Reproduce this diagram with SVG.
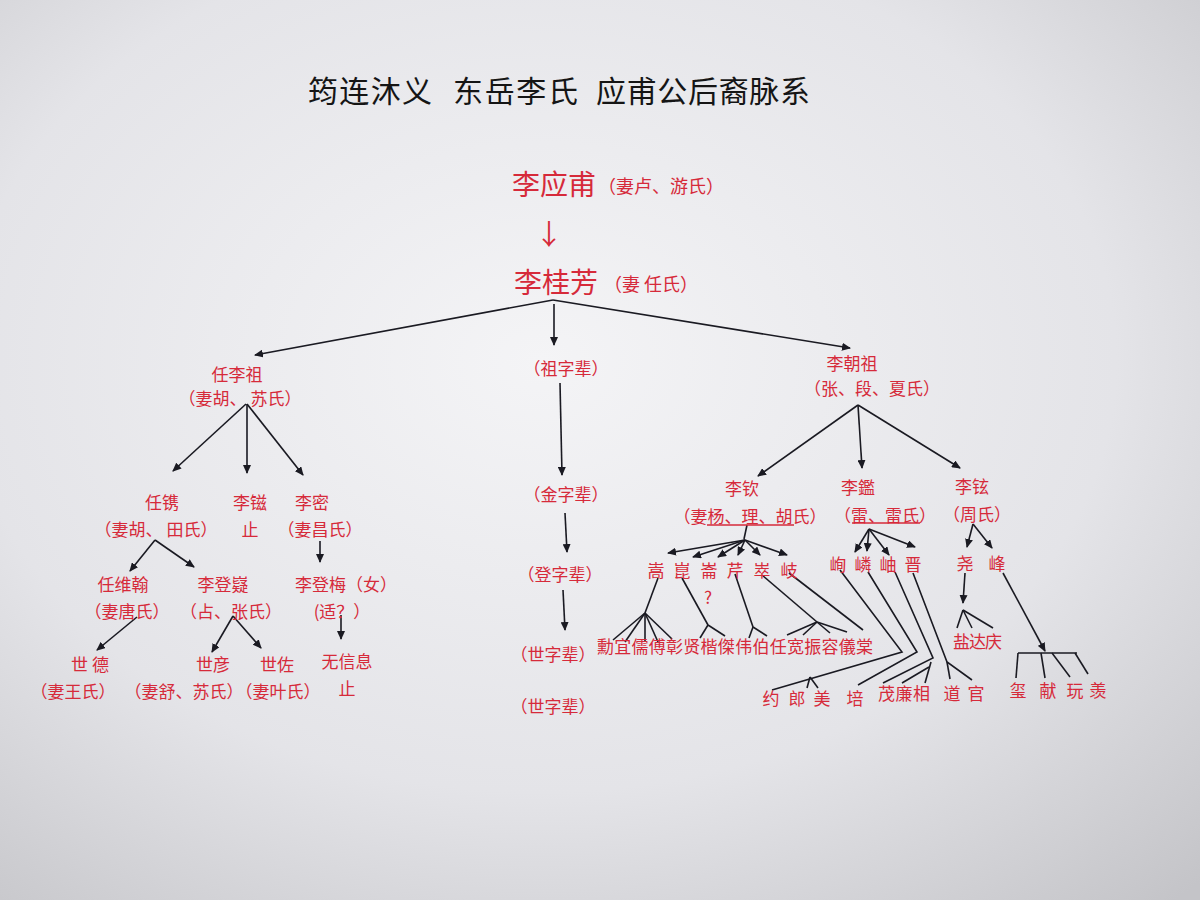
<svg xmlns="http://www.w3.org/2000/svg" width="1200" height="900" viewBox="0 0 1200 900">
<defs>
<radialGradient id="bg" cx="0.45" cy="0.4" r="0.8">
<stop offset="0" stop-color="#f4f4f6"/>
<stop offset="0.6" stop-color="#e4e4e8"/>
<stop offset="1" stop-color="#c4c4c8"/>
</radialGradient>
<marker id="ah" markerUnits="userSpaceOnUse" markerWidth="9" markerHeight="8" refX="8" refY="4" orient="auto">
<path d="M0,0 L9,4 L0,8 z" fill="#1a1a22"/>
</marker>
<style>
.t{font-family:"Noto Sans CJK SC","Noto Sans",sans-serif;fill:#d62a3a;dominant-baseline:central}
.n{font-size:17px}
.p{font-size:17px}
.big{font-size:28px}
.mid{font-size:18px}
.title{font-family:"Noto Sans CJK SC","Noto Sans",sans-serif;font-size:30px;fill:#151515;dominant-baseline:central}
.c{text-anchor:middle}
.ln{stroke:#1a1a22;stroke-width:1.6;fill:none}
.ar{marker-end:url(#ah)}
.ul{stroke:#d62a3a;stroke-width:1.5}
</style>
</defs>
<rect width="1200" height="900" fill="url(#bg)"/>

<g id="title">
<text class="title" x="308" y="89" textLength="124">筠连沐义</text>
<text class="title" x="453" y="89" textLength="125">东岳李氏</text>
<text class="title" x="596" y="89" textLength="214">应甫公后裔脉系</text>
</g>

<g id="connectors">
<line class="ln ar" x1="553" y1="300" x2="255" y2="355"/>
<line class="ln ar" x1="554" y1="304" x2="554" y2="345"/>
<line class="ln ar" x1="553" y1="300" x2="850" y2="348"/>
<line class="ln ar" x1="246" y1="404" x2="173" y2="471"/>
<line class="ln ar" x1="247" y1="404" x2="247" y2="473"/>
<line class="ln ar" x1="247" y1="404" x2="303" y2="475"/>
<line class="ln ar" x1="155" y1="540" x2="130" y2="571"/>
<line class="ln ar" x1="155" y1="540" x2="194" y2="567"/>
<line class="ln ar" x1="320" y1="541" x2="320" y2="562"/>
<line class="ln ar" x1="137" y1="617" x2="97" y2="650"/>
<line class="ln ar" x1="233" y1="616" x2="212" y2="652"/>
<line class="ln ar" x1="233" y1="616" x2="261" y2="648"/>
<line class="ln ar" x1="341" y1="615" x2="341" y2="639"/>
<line class="ln ar" x1="560" y1="383" x2="562" y2="475"/>
<line class="ln ar" x1="565" y1="513" x2="567" y2="552"/>
<line class="ln ar" x1="563" y1="590" x2="565" y2="630"/>
<line class="ln ar" x1="858" y1="405" x2="758" y2="476"/>
<line class="ln ar" x1="858" y1="405" x2="862" y2="468"/>
<line class="ln ar" x1="858" y1="405" x2="960" y2="468"/>
<line class="ln" x1="747" y1="525" x2="744" y2="539"/>
<line class="ln ar" x1="745" y1="540" x2="668" y2="553"/>
<line class="ln ar" x1="745" y1="540" x2="693" y2="557"/>
<line class="ln ar" x1="745" y1="540" x2="718" y2="557"/>
<line class="ln ar" x1="745" y1="540" x2="738" y2="555"/>
<line class="ln ar" x1="745" y1="540" x2="760" y2="555"/>
<line class="ln ar" x1="745" y1="540" x2="787" y2="555"/>
<line class="ln ar" x1="869" y1="529" x2="855" y2="552"/>
<line class="ln ar" x1="869" y1="529" x2="867" y2="551"/>
<line class="ln ar" x1="869" y1="529" x2="889" y2="555"/>
<line class="ln ar" x1="869" y1="529" x2="915" y2="547"/>
<line class="ln ar" x1="973" y1="524" x2="967" y2="547"/>
<line class="ln ar" x1="973" y1="524" x2="992" y2="548"/>
<line class="ln" x1="658" y1="578" x2="645" y2="613"/>
<line class="ln" x1="645" y1="613" x2="613" y2="640"/>
<line class="ln" x1="645" y1="613" x2="625" y2="642"/>
<line class="ln" x1="645" y1="613" x2="645" y2="642"/>
<line class="ln" x1="645" y1="613" x2="658" y2="642"/>
<line class="ln" x1="645" y1="613" x2="672" y2="639"/>
<line class="ln" x1="682" y1="578" x2="708" y2="625"/>
<line class="ln" x1="708" y1="625" x2="700" y2="638"/>
<line class="ln" x1="708" y1="625" x2="725" y2="636"/>
<line class="ln" x1="735" y1="574" x2="753" y2="627"/>
<line class="ln" x1="753" y1="627" x2="749" y2="638"/>
<line class="ln" x1="753" y1="627" x2="767" y2="636"/>
<line class="ln" x1="762" y1="575" x2="817" y2="622"/>
<line class="ln" x1="817" y1="622" x2="787" y2="635"/>
<line class="ln" x1="817" y1="622" x2="803" y2="635"/>
<line class="ln" x1="817" y1="622" x2="830" y2="633"/>
<line class="ln" x1="817" y1="622" x2="847" y2="632"/>
<line class="ln" x1="789" y1="573" x2="863" y2="630"/>
<polyline class="ln" points="840,570 902,652 772,690"/>
<line class="ln" x1="810" y1="677" x2="807" y2="688"/>
<line class="ln" x1="810" y1="677" x2="818" y2="688"/>
<polyline class="ln" points="868,572 917,652 858,685"/>
<polyline class="ln" points="895,572 933,658 883,683"/>
<line class="ln" x1="929" y1="667" x2="902" y2="683"/>
<line class="ln" x1="931" y1="662" x2="925" y2="683"/>
<polyline class="ln" points="913,573 947,662 972,680"/>
<line class="ln" x1="947" y1="662" x2="950" y2="679"/>
<line class="ln ar" x1="965" y1="573" x2="963" y2="603"/>
<line class="ln" x1="963" y1="610" x2="957" y2="628"/>
<line class="ln" x1="963" y1="610" x2="972" y2="628"/>
<line class="ln" x1="963" y1="610" x2="993" y2="628"/>
<line class="ln ar" x1="1003" y1="573" x2="1045" y2="651"/>
<line class="ln" x1="1018" y1="653" x2="1077" y2="653"/>
<line class="ln" x1="1018" y1="653" x2="1016" y2="678"/>
<line class="ln" x1="1041" y1="653" x2="1045" y2="678"/>
<line class="ln" x1="1052" y1="653" x2="1070" y2="677"/>
<line class="ln" x1="1075" y1="653" x2="1088" y2="674"/>
</g>

<g id="li-yingfu">
<text class="t big" x="512" y="183" textLength="84">李应甫</text>
<text class="t mid c" x="661" y="185">（妻卢、游氏）</text>
<text class="t c" x="549" y="233" font-size="28">↓</text>
</g>
<g id="li-guifang">
<text class="t big" x="514" y="281" textLength="84">李桂芳</text>
<text class="t mid c" x="651" y="283">（妻 任氏）</text>
</g>

<g id="ren-lizu">
<text class="t n c" x="237" y="373">任李祖</text>
<text class="t p c" x="240" y="397">（妻胡、 苏氏）</text>
</g>
<g id="ren-juan">
<text class="t n c" x="162" y="501">任镌</text>
<text class="t p c" x="156" y="528">（妻胡、 田氏）</text>
</g>
<g id="li-zi">
<text class="t n c" x="250" y="501">李镃</text>
<text class="t n c" x="250" y="528">止</text>
</g>
<g id="li-mi">
<text class="t n c" x="312" y="501">李密</text>
<text class="t p c" x="320" y="528">（妻昌氏）</text>
</g>
<g id="ren-weihan">
<text class="t n c" x="123" y="583">任维翰</text>
<text class="t p c" x="127" y="610">（妻唐氏）</text>
</g>
<g id="li-dengyi">
<text class="t n c" x="223" y="583">李登嶷</text>
<text class="t p c" x="231" y="610">（占、张氏）</text>
</g>
<g id="li-dengmei">
<text class="t n" x="295" y="583">李登梅（女）</text>
<text class="t p c" x="342" y="610">(适？）</text>
</g>
<g id="shi-de">
<text class="t n c" x="90" y="663">世 德</text>
<text class="t p c" x="73" y="690">（妻王氏）</text>
</g>
<g id="shi-yan">
<text class="t n c" x="213" y="663">世彦</text>
<text class="t p c" x="184" y="690">（妻舒、苏氏）</text>
</g>
<g id="shi-zuo">
<text class="t n c" x="277" y="663">世佐</text>
<text class="t p c" x="278" y="690">（妻叶氏）</text>
</g>
<g id="no-info">
<text class="t n c" x="347" y="660">无信息</text>
<text class="t n c" x="347" y="687">止</text>
</g>

<g id="zu-bei">
<text class="t p c" x="566" y="367">（祖字辈）</text>
</g>
<g id="jin-bei">
<text class="t p c" x="566" y="493">（金字辈）</text>
</g>
<g id="deng-bei">
<text class="t p c" x="560" y="573">（登字辈）</text>
</g>
<g id="shi-bei-1">
<text class="t p c" x="553" y="653">（世字辈）</text>
</g>
<g id="shi-bei-2">
<text class="t p c" x="553" y="705">（世字辈）</text>
</g>

<g id="li-chaozu">
<text class="t n c" x="852" y="362">李朝祖</text>
<text class="t p c" x="872" y="387">（张、段、夏氏）</text>
</g>
<g id="li-qin">
<text class="t n c" x="742" y="487">李钦</text>
<text class="t p c" x="750" y="515">（妻杨、理、胡氏）</text>
<line class="ul" x1="707" y1="525" x2="794" y2="525"/>
</g>
<g id="li-jian">
<text class="t n c" x="858" y="486">李鑑</text>
<text class="t p c" x="885" y="514">（雷、雷氏）</text>
<line class="ul" x1="852" y1="523" x2="920" y2="523"/>
</g>
<g id="li-xuan">
<text class="t n c" x="972" y="485">李铉</text>
<text class="t p c" x="977" y="513">（周氏）</text>
</g>

<g id="gen-qin">
<text class="t n c" x="656" y="569">嵩</text>
<text class="t n c" x="682" y="569">崑</text>
<text class="t n c" x="709" y="569">崙</text>
<text class="t n c" x="735" y="569">芹</text>
<text class="t n c" x="762" y="569">崒</text>
<text class="t n c" x="789" y="569">岐</text>
<text class="t p c" x="708" y="596">?</text>
</g>
<g id="gen-jian">
<text class="t n c" x="838" y="563">峋</text>
<text class="t n c" x="863" y="563">嶙</text>
<text class="t n c" x="888" y="563">岫</text>
<text class="t n c" x="913" y="563">晋</text>
</g>
<g id="gen-xuan">
<text class="t n c" x="965" y="562">尧</text>
<text class="t n c" x="997" y="562">峰</text>
</g>
<g id="grandsons">
<text class="t n" x="597" y="645" textLength="276">勳宜儒傅彰贤楷傑伟伯任宽振容儀棠</text>
</g>
<g id="yue-lang-mei">
<text class="t n c" x="771" y="697">约</text>
<text class="t n c" x="797" y="697">郎</text>
<text class="t n c" x="822" y="697">美</text>
</g>
<g id="pei">
<text class="t n c" x="855" y="697">培</text>
</g>
<g id="mao-lian-xiang">
<text class="t n" x="878" y="692" textLength="52">茂廉相</text>
</g>
<g id="dao-guan">
<text class="t n c" x="952" y="692">道</text>
<text class="t n c" x="976" y="692">官</text>
</g>
<g id="yan-da-qing">
<text class="t n" x="953" y="640" textLength="49">盐达庆</text>
</g>
<g id="feng-sons">
<text class="t n c" x="1018" y="689">玺</text>
<text class="t n c" x="1048" y="689">献</text>
<text class="t n c" x="1075" y="689">玩</text>
<text class="t n c" x="1098" y="689">羡</text>
</g>
</svg>
